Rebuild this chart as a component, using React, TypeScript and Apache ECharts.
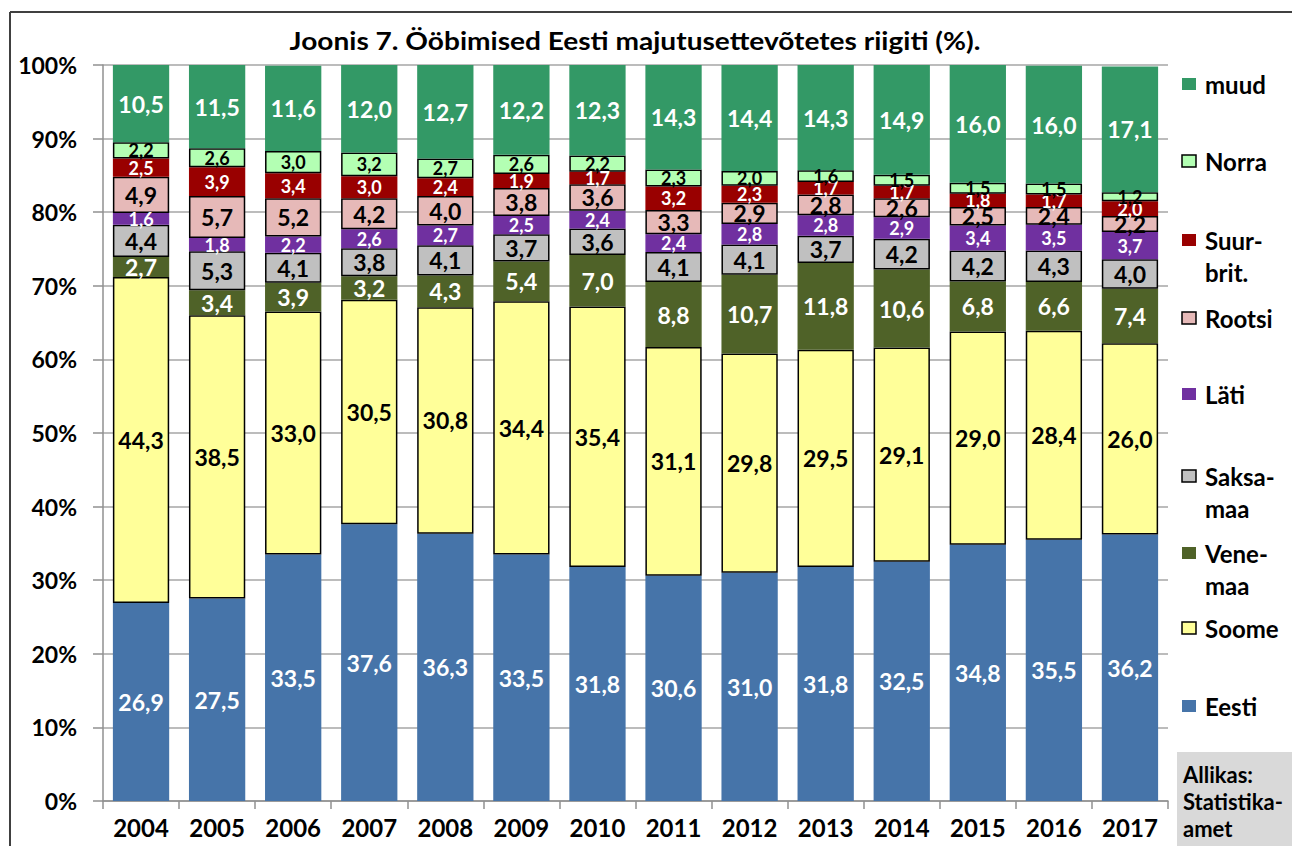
import React, { useEffect, useRef } from "react";
import * as echarts from "echarts";

const years = ["2004", "2005", "2006", "2007", "2008", "2009", "2010", "2011", "2012", "2013", "2014", "2015", "2016", "2017"];
const eesti = [26.9, 27.5, 33.5, 37.6, 36.3, 33.5, 31.8, 30.6, 31.0, 31.8, 32.5, 34.8, 35.5, 36.2];
const soome = [44.3, 38.5, 33.0, 30.5, 30.8, 34.4, 35.4, 31.1, 29.8, 29.5, 29.1, 29.0, 28.4, 26.0];
const venemaa = [2.7, 3.4, 3.9, 3.2, 4.3, 5.4, 7.0, 8.8, 10.7, 11.8, 10.6, 6.8, 6.6, 7.4];
const saksamaa = [4.4, 5.3, 4.1, 3.8, 4.1, 3.7, 3.6, 4.1, 4.1, 3.7, 4.2, 4.2, 4.3, 4.0];
const lati = [1.6, 1.8, 2.2, 2.6, 2.7, 2.5, 2.4, 2.4, 2.8, 2.8, 2.9, 3.4, 3.5, 3.7];
const rootsi = [4.9, 5.7, 5.2, 4.2, 4.0, 3.8, 3.6, 3.3, 2.9, 2.8, 2.6, 2.5, 2.4, 2.2];
const suurbrit = [2.5, 3.9, 3.4, 3.0, 2.4, 1.9, 1.7, 3.2, 2.3, 1.7, 1.7, 1.8, 1.7, 2.0];
const norra = [2.2, 2.6, 3.0, 3.2, 2.7, 2.6, 2.2, 2.3, 2.0, 1.6, 1.5, 1.5, 1.5, 1.2];
const muud = [10.5, 11.5, 11.6, 12.0, 12.7, 12.2, 12.3, 14.3, 14.4, 14.3, 14.9, 16.0, 16.0, 17.1];

const titleText = "Joonis 7. Ööbimised Eesti majutusettevõtetes riigiti (%).";
const sourceText = "Allikas:\nStatistika-\namet";

const FONT = "Lato, 'Open Sans', sans-serif";
const LEGEND_LH = 32;

type S = { name: string; legend: string; data: number[]; color: string; border: boolean; labelColor: string; big: boolean; legendY: number };

const seriesDefs: S[] = [
  { name: "Eesti", legend: "Eesti", data: eesti, color: "#4674A9", border: false, labelColor: "#ffffff", big: true, legendY: 706 },
  { name: "Soome", legend: "Soome", data: soome, color: "#FFFF99", border: true, labelColor: "#000000", big: true, legendY: 628 },
  { name: "Venemaa", legend: "Vene-\nmaa", data: venemaa, color: "#4F6228", border: false, labelColor: "#ffffff", big: true, legendY: 553 },
  { name: "Saksamaa", legend: "Saksa-\nmaa", data: saksamaa, color: "#C0C0C0", border: true, labelColor: "#000000", big: true, legendY: 476 },
  { name: "Läti", legend: "Läti", data: lati, color: "#7030A0", border: false, labelColor: "#ffffff", big: false, legendY: 394 },
  { name: "Rootsi", legend: "Rootsi", data: rootsi, color: "#E6B9B8", border: true, labelColor: "#000000", big: true, legendY: 318 },
  { name: "Suurbritannia", legend: "Suur-\nbrit.", data: suurbrit, color: "#990000", border: false, labelColor: "#ffffff", big: false, legendY: 240 },
  { name: "Norra", legend: "Norra", data: norra, color: "#B3FFB3", border: true, labelColor: "#000000", big: false, legendY: 161 },
  { name: "muud", legend: "muud", data: muud, color: "#339966", border: false, labelColor: "#ffffff", big: true, legendY: 84 },
];

export default function App() {
  const ref = useRef<HTMLDivElement>(null);
  useEffect(() => {
    if (!ref.current) return;
    const chart = echarts.init(ref.current, undefined, { renderer: "svg" });
    const legendGraphics: any[] = [];
    seriesDefs.forEach((s) => {
      legendGraphics.push({
        type: "rect",
        shape: { x: 1182, y: s.legendY - 6, width: 14, height: 12 },
        style: { fill: s.color, stroke: s.border ? "#000" : null, lineWidth: s.border ? 1.5 : 0 },
      });
      legendGraphics.push({
        type: "text",
        x: 1205,
        y: s.legendY - LEGEND_LH / 2,
        style: { text: s.legend, font: `bold 24px ${FONT}`, fill: "#000", lineHeight: LEGEND_LH, textVerticalAlign: "top", verticalAlign: "top" },
      });
    });
    chart.setOption({
      animation: false,
      backgroundColor: "#ffffff",
      grid: { left: 103, right: 124, top: 65, bottom: 45, containLabel: false },
      xAxis: {
        type: "category",
        data: years,
        axisLine: { lineStyle: { color: "#909090", width: 1.5 } },
        axisTick: { show: true, length: 8, lineStyle: { color: "#909090", width: 1.5 } },
        axisLabel: { color: "#000", fontFamily: FONT, fontWeight: "bold", fontSize: 24, margin: 14 },
      },
      yAxis: {
        type: "value",
        min: 0,
        max: 100,
        interval: 10,
        axisLine: { show: true, lineStyle: { color: "#909090", width: 1.5 } },
        axisTick: { show: true, length: 10, lineStyle: { color: "#909090", width: 1.5 } },
        splitLine: { lineStyle: { color: "#A6A6A6", width: 1.5 } },
        axisLabel: { color: "#000", fontFamily: FONT, fontWeight: "bold", fontSize: 23, margin: 26, formatter: "{value}%" },
      },
      series: seriesDefs.map((s) => ({
        name: s.name,
        type: "bar",
        stack: "total",
        barCategoryGap: "26%",
        data: s.data,
        itemStyle: { color: s.color, borderColor: s.border ? "#000" : s.color, borderWidth: s.border ? 1.5 : 0 },
        label: {
          show: true,
          position: "inside",
          color: s.labelColor,
          fontFamily: FONT,
          fontWeight: "bold",
          fontSize: s.big ? 23 : 18,
          formatter: (p: any) => Number(p.value).toFixed(1).replace(".", ","),
        },
      })),
      graphic: [
        { type: "line", shape: { x1: 10, y1: 12, x2: 1292, y2: 12 }, style: { stroke: "#404040", lineWidth: 2 } },
        { type: "line", shape: { x1: 10, y1: 12, x2: 10, y2: 846 }, style: { stroke: "#404040", lineWidth: 2 } },
        {
          type: "text",
          x: 635,
          y: 41,
          scaleX: 1.17,
          style: { text: titleText, font: `bold 24px ${FONT}`, fill: "#000", textAlign: "center", textVerticalAlign: "middle", align: "center", verticalAlign: "middle" },
        },
        { type: "rect", shape: { x: 1177, y: 752, width: 115, height: 94 }, style: { fill: "#D9D9D9" } },
        {
          type: "text",
          x: 1183,
          y: 761,
          style: { text: sourceText, font: `bold 22px ${FONT}`, fill: "#000", lineHeight: 27, textVerticalAlign: "top", verticalAlign: "top" },
        },
        ...legendGraphics,
      ],
    });
    return () => chart.dispose();
  }, []);
  return <div ref={ref} style={{ position: "fixed", left: 0, top: 0, width: 1292, height: 846 }} />;
}
